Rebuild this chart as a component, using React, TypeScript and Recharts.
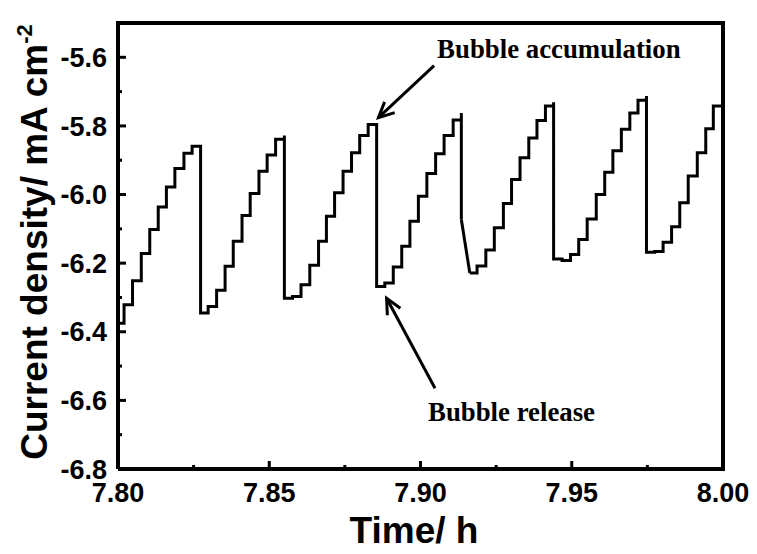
import { LineChart, Line, XAxis, YAxis, ReferenceLine } from 'recharts'

// level start time (h) and current density (mA cm-2); stepAfter draws the staircase
const TIME = [
  7.8, 7.802, 7.8048, 7.8077, 7.8105, 7.8133, 7.816, 7.8188, 7.8218, 7.8245,
  7.8273, 7.8298, 7.8326, 7.8354, 7.8381, 7.841, 7.8437, 7.8466, 7.8493, 7.8521,
  7.855, 7.855, 7.8577, 7.8605, 7.8634, 7.8663, 7.8689, 7.8716, 7.8744, 7.8772,
  7.8799, 7.8827, 7.8855, 7.8882, 7.891, 7.8938, 7.8965, 7.8993, 7.9021, 7.905,
  7.9078, 7.9108, 7.9135, 7.9135, 7.915, 7.9163, 7.9187, 7.9216, 7.9244, 7.9274,
  7.9301, 7.9329, 7.9358, 7.9385, 7.9413, 7.944, 7.944, 7.9468, 7.9496, 7.9523,
  7.9551, 7.9581, 7.9609, 7.9636, 7.9664, 7.9692, 7.9719, 7.9747, 7.9747, 7.9774,
  7.9802, 7.983, 7.9857, 7.9885, 7.9915, 7.9943, 7.9968, 8.0,
]
const CURRENT = [
  -6.375, -6.321, -6.251, -6.172, -6.102, -6.036, -5.978, -5.924, -5.88, -5.859,
  -6.345, -6.326, -6.279, -6.209, -6.136, -6.061, -5.997, -5.932, -5.885, -5.839,
  -5.828, -6.302, -6.297, -6.263, -6.206, -6.136, -6.063, -5.995, -5.932, -5.878,
  -5.828, -5.796, -6.268, -6.258, -6.211, -6.151, -6.078, -6.005, -5.939, -5.881,
  -5.828, -5.783, -5.762, -6.073, null, -6.229, -6.208, -6.162, -6.097, -6.026,
  -5.956, -5.893, -5.835, -5.784, -5.742, -5.731, -6.188, -6.192, -6.175, -6.131,
  -6.071, -6.0, -5.935, -5.872, -5.81, -5.762, -5.725, -5.713, -6.168, -6.166,
  -6.139, -6.094, -6.024, -5.946, -5.878, -5.808, -5.742, -5.742,
]
// the one release that is not a clean vertical drop
const SLANT_TIME = [7.9135, 7.9163]
const SLANT_CURRENT = [-6.073, -6.229]

const X_TICKS = [7.8, 7.825, 7.85, 7.875, 7.9, 7.925, 7.95, 7.975, 8.0]
const Y_TICKS = [-6.8, -6.7, -6.6, -6.5, -6.4, -6.3, -6.2, -6.1, -6.0, -5.9, -5.8, -5.7, -5.6]

const W = 757
const H = 554
const PLOT_LEFT = 118
const PLOT_BOTTOM = 469
const SANS = '"Liberation Sans", Arial, sans-serif'
const SERIF = '"Liberation Serif", "Times New Roman", serif'

const data = TIME.map((t, i) => ({ t, v: CURRENT[i] }))
const slant = SLANT_TIME.map((t, i) => ({ t, v: SLANT_CURRENT[i] }))

function XTick({ x, payload, index }: any) {
  const major = index % 2 === 0
  return (
    <g>
      <line x1={x} x2={x} y1={PLOT_BOTTOM} y2={PLOT_BOTTOM - (major ? 8 : 4)} stroke="#000" strokeWidth={3} />
      {major && (
        <text x={x} y={502} textAnchor="middle" fontFamily={SANS} fontWeight="bold" fontSize={27} fill="#000">
          {Number(payload.value).toFixed(2)}
        </text>
      )}
    </g>
  )
}

function YTick({ y, payload }: any) {
  const major = Math.round(Math.abs(payload.value) * 10) % 2 === 0
  return (
    <g>
      <line x1={PLOT_LEFT} x2={PLOT_LEFT + (major ? 8 : 4)} y1={y} y2={y} stroke="#000" strokeWidth={3} />
      {major && (
        <text x={107} y={y} dy="0.36em" textAnchor="end" fontFamily={SANS} fontWeight="bold" fontSize={27} fill="#000">
          {Number(payload.value).toFixed(1)}
        </text>
      )}
    </g>
  )
}

const XTitle = () => (
  <text x={414} y={543} textAnchor="middle" fontFamily={SANS} fontWeight="bold" fontSize={37} fill="#000">
    Time/ h
  </text>
)

const YTitle = () => (
  <text
    x={47}
    y={242}
    transform="rotate(-90 47 242)"
    textAnchor="middle"
    fontFamily={SANS}
    fontWeight="bold"
    fontSize={37}
    fill="#000"
  >
    Current density/ mA cm
    <tspan dy={-15} fontSize={22}>-2</tspan>
  </text>
)

// arrow from (x1,y1) to head at (x2,y2), with its caption
function arrow(text: string, dx: number, dy: number) {
  return (p: any) => {
    const { x1, y1, x2, y2 } = p
    const a = Math.atan2(y2 - y1, x2 - x1)
    const len = 17
    const s = 0.45
    const h1x = x2 - len * Math.cos(a - s)
    const h1y = y2 - len * Math.sin(a - s)
    const h2x = x2 - len * Math.cos(a + s)
    const h2y = y2 - len * Math.sin(a + s)
    return (
      <g>
        <line x1={x1} y1={y1} x2={x2} y2={y2} stroke="#000" strokeWidth={3} />
        <polyline
          points={`${h1x},${h1y} ${x2},${y2} ${h2x},${h2y}`}
          fill="none"
          stroke="#000"
          strokeWidth={3}
        />
        <text x={x1 + dx} y={y1 + dy} fontFamily={SERIF} fontWeight="bold" fontSize={26.8} fill="#000">
          {text}
        </text>
      </g>
    )
  }
}

export default function App() {
  return (
    <div style={{ position: 'absolute', left: 0, top: 0, background: '#fff' }}>
      <LineChart width={W} height={H} data={data} margin={{ top: 23, right: 34, bottom: 0, left: 0 }}>
        <XAxis
          dataKey="t"
          type="number"
          domain={[7.8, 8.0]}
          ticks={X_TICKS}
          interval={0}
          allowDataOverflow
          height={85}
          tickLine={false}
          tick={<XTick />}
          axisLine={{ stroke: '#000', strokeWidth: 4 }}
          label={{ content: XTitle }}
        />
        <YAxis
          type="number"
          domain={[-6.8, -5.5]}
          ticks={Y_TICKS}
          interval={0}
          allowDataOverflow
          width={118}
          tickLine={false}
          tick={<YTick />}
          axisLine={{ stroke: '#000', strokeWidth: 4 }}
          label={{ content: YTitle }}
        />
        <ReferenceLine y={-5.5} stroke="#000" strokeWidth={4} strokeLinecap="square" />
        <ReferenceLine x={8.0} stroke="#000" strokeWidth={4} strokeLinecap="square" />
        <Line
          dataKey="v"
          type="stepAfter"
          stroke="#000"
          strokeWidth={3}
          dot={false}
          activeDot={false}
          connectNulls={false}
          isAnimationActive={false}
        />
        <Line
          data={slant}
          dataKey="v"
          type="linear"
          stroke="#000"
          strokeWidth={3}
          dot={false}
          activeDot={false}
          isAnimationActive={false}
        />
        <ReferenceLine
          segment={[{ x: 7.9045, y: -5.6245 }, { x: 7.8861, y: -5.776 }]}
          shape={arrow('Bubble accumulation', 3, -8)}
        />
        <ReferenceLine
          segment={[{ x: 7.9048, y: -6.5648 }, { x: 7.8888, y: -6.3024 }]}
          shape={arrow('Bubble release', -7, 33)}
        />
      </LineChart>
    </div>
  )
}
